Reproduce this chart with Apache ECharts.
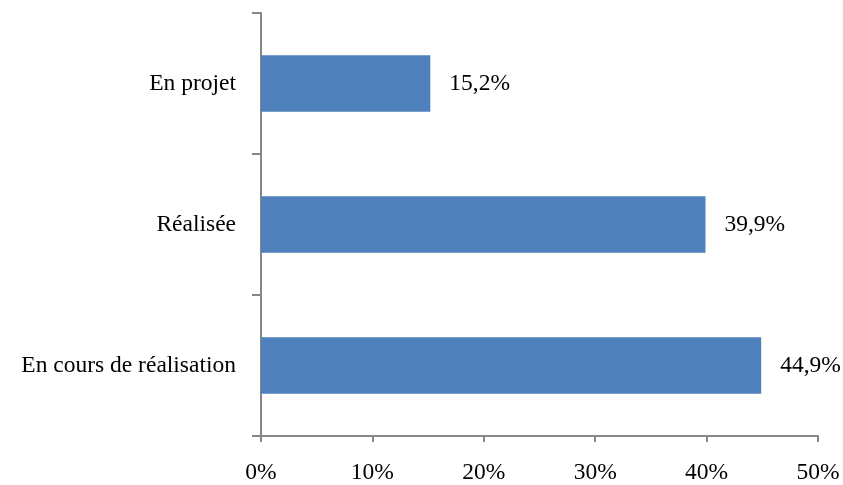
<!DOCTYPE html>
<html><head><meta charset="utf-8">
<script src="https://cdn.jsdelivr.net/npm/echarts@6/dist/echarts.min.js"></script>
<style>html,body{margin:0;padding:0;background:#fff}#c{width:843px;height:485px}</style>
</head><body><div id="c"></div>
<script>
const categories = ["En cours de réalisation", "Réalisée", "En projet"];
const values = [44.9, 39.9, 15.2];
const xTicks = [0, 10, 20, 30, 40, 50];

const chart = echarts.init(document.getElementById('c'));
const axisColor = '#868686';
const font = '"Liberation Serif", "Times New Roman", serif';
chart.setOption({
  animation: false,
  grid: {left: 261, right: 25, top: 13, bottom: 45},
  xAxis: {
    type: 'value', min: xTicks[0], max: xTicks[xTicks.length-1], interval: 10,
    axisLine: {show: true, lineStyle: {color: axisColor, width: 2}},
    axisTick: {show: true, length: 6, lineStyle: {color: axisColor, width: 2}},
    splitLine: {show: false},
    axisLabel: {formatter: v => v + '%', color: '#000', fontFamily: font, fontSize: 23.5, margin: 25}
  },
  yAxis: {
    type: 'category', data: categories,
    axisLine: {show: true, lineStyle: {color: axisColor, width: 2}},
    axisTick: {show: true, length: 9, lineStyle: {color: axisColor, width: 2}},
    axisLabel: {color: '#000', fontFamily: font, fontSize: 23.5, margin: 25}
  },
  series: [{
    type: 'bar', data: values, barWidth: '40%',
    itemStyle: {color: '#4F81BD'},
    label: {show: true, position: 'right', distance: 19, color: '#000', fontFamily: font, fontSize: 23.5,
      formatter: p => p.value.toFixed(1).replace('.', ',') + '%'}
  }]
});
</script></body></html>
